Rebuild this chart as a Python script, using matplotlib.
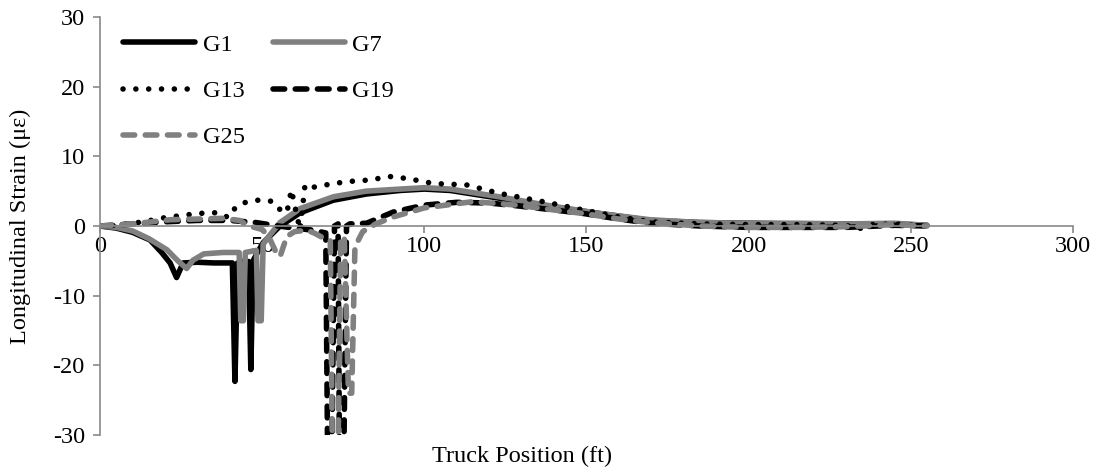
import numpy as np
import matplotlib
matplotlib.use('Agg')
import matplotlib.pyplot as plt

plt.rcParams['font.family'] = ['Liberation Serif', 'DejaVu Serif']

# series (truck position in ft, strain in microstrain)
g1_x = [0, 5, 10, 15.4, 19, 21.6, 23.6, 25.6, 30, 35, 40.8, 41.6, 42.4, 44, 45.8,
        46.5, 47.2, 48.3, 50.3, 55.5, 61.7, 71.9, 82.2, 92.5, 100, 108, 123, 138.8,
        154, 169.6, 185, 200, 215, 230, 245, 255]
g1_y = [0, -0.3, -0.9, -2.0, -3.8, -5.3, -7.4, -5.3, -5.2, -5.3, -5.3, -22.3, -5.3, -5.1, -5.1,
        -20.6, -5.0, -4.0, -2.4, 0.0, 1.9, 3.7, 4.6, 5.1, 5.3, 5.1, 4.0, 2.8,
        1.8, 0.8, 0.5, 0.4, 0.3, 0.3, 0.3, 0.1]

g7_x = [0, 5, 10, 15, 20.6, 24, 26.7, 28.7, 32, 38, 42.9, 43.4, 44.2, 44.8, 47, 48.2,
        48.7, 49.7, 50.3, 52, 55.5, 61.7, 72, 82, 92.5, 100, 108, 123, 138.8, 154,
        169.6, 185, 200, 215, 230, 245, 255]
g7_y = [0, -0.2, -0.7, -1.8, -3.4, -5.0, -6.1, -4.9, -4.0, -3.8, -3.8, -13.6, -13.6, -3.8, -3.6, -3.5,
        -13.6, -13.6, -2.6, -1.5, 0.5, 2.5, 4.2, 5.0, 5.3, 5.5, 5.3, 4.2, 2.9, 1.8,
        0.9, 0.5, 0.4, 0.4, 0.3, 0.4, 0.1]

g13_x = [0, 5, 13.3, 20, 26.7, 33, 37, 39.5, 42, 44, 48.3, 51, 53.4, 55, 57.6, 59, 60,
         61.7, 63.2, 65, 72, 77, 83, 89.4, 95, 102.8, 113, 123, 138.8, 149, 160, 170,
         185, 200, 215, 230, 234, 238, 245, 255]
g13_y = [0, 0.1, 0.6, 1.2, 1.6, 1.9, 1.9, 1.2, 2.8, 3.3, 3.7, 3.7, 3.5, 2.5, 1.9, 5.2, 3.0,
         -0.6, 5.9, 5.5, 6.1, 6.4, 6.6, 7.1, 6.8, 6.1, 5.9, 4.7, 3.3, 2.3, 1.3, 0.6,
         0.3, 0.2, 0.2, 0.1, -0.4, 0.2, 0.3, 0.0]

g19_x = [0, 10, 20, 30, 40, 48, 55, 60, 65.7, 69.6, 70.3, 71.3, 72.3, 73.4, 73.9, 75.0,
         76.0, 77, 82.2, 90.4, 100, 110, 120, 128.5, 140, 149, 160, 169.6, 185, 200,
         215, 230, 245, 255]
g19_y = [0, 0.3, 0.6, 0.8, 0.8, 0.5, 0.0, -0.3, -0.6, -1.0, -40, -40, 0.0, 0.3, -40, -40,
         0.0, 0.3, 0.4, 2.0, 3.0, 3.4, 3.3, 2.9, 2.3, 1.8, 1.0, 0.4, 0.0, -0.2,
         -0.2, -0.2, 0.1, 0.0]

g25_x = [0, 7, 14, 21.6, 30, 38, 43, 46, 50, 52, 54, 55.5, 56.5, 57.6, 60, 63.8, 66, 68.8,
         71.0, 71.8, 73.2, 74.2, 75.3, 76.6, 77.6, 78.6, 81, 85, 90.4, 100, 115, 128.5,
         140, 149, 160, 169.6, 185, 200, 215, 230, 245, 255]
g25_y = [0, 0.2, 0.5, 0.9, 1.0, 1.1, 0.8, 0.0, -0.5, -1.5, -3.5, -4.4, -3.0, -1.5, -0.8, -0.6, -1.0, -1.7,
         -2.0, -40, -40, -1.8, -1.5, -24, -24, -3.0, -0.8, 0.3, 1.3, 2.6, 3.5, 3.0,
         2.3, 1.8, 1.0, 0.5, 0.0, -0.2, -0.2, -0.1, 0.2, 0.0]

x_ticks = [0, 50, 100, 150, 200, 250, 300]
y_ticks = [-30, -20, -10, 0, 10, 20, 30]

fs = 17.5
gray = '#808080'
axis_col = '#898989'
lw = 4

fig = plt.figure(figsize=(11.09, 4.75), dpi=100)
ax = fig.add_axes([0.0902, 0.0842, 0.8773, 0.88])

dash = (0, (2.1, 1.9))
dot = (0, (0.01, 2.3))
l1, = ax.plot(g1_x, g1_y, color='black', lw=lw, solid_joinstyle='round', solid_capstyle='round', label='G1')
l7, = ax.plot(g7_x, g7_y, color=gray, lw=lw, solid_joinstyle='round', solid_capstyle='round', label='G7')
l13, = ax.plot(g13_x, g13_y, color='black', lw=lw, linestyle=dot, dash_capstyle='round', label='G13')
l19, = ax.plot(g19_x, g19_y, color='black', lw=lw, linestyle=dash, dash_capstyle='round', dash_joinstyle='round', label='G19')
l25, = ax.plot(g25_x, g25_y, color=gray, lw=lw, linestyle=dash, dash_capstyle='round', dash_joinstyle='round', label='G25')

ax.set_xlim(0, 300)
ax.set_ylim(-30, 30)
ax.set_xticks(x_ticks)
ax.set_yticks(y_ticks)
ax.set_xticklabels([str(v) for v in x_ticks])
ax.set_yticklabels([str(v) for v in y_ticks])

for s in ['top', 'right']:
    ax.spines[s].set_visible(False)
ax.spines['bottom'].set_position(('data', 0))
ax.spines['bottom'].set_color(axis_col)
ax.spines['left'].set_color(axis_col)
ax.spines['bottom'].set_linewidth(1.2)
ax.spines['left'].set_linewidth(1.2)
ax.tick_params(axis='both', colors=axis_col, labelcolor='black', labelsize=fs,
               length=5, width=1.2, direction='out')
ax.tick_params(axis='x', pad=2)
ax.tick_params(axis='y', pad=6)

fig.text(0.471, 0.04, 'Truck Position (ft)', ha='center', va='center', fontsize=fs)
fig.text(0.018, 0.524, 'Longitudinal Strain (με)', ha='center', va='center',
         rotation=90, fontsize=fs)

handles = [l1, l13, l25, l7, l19]
ax.legend(handles, [h.get_label() for h in handles], ncol=2, loc='upper left',
          bbox_to_anchor=(0.024, 0.96), frameon=False, fontsize=fs,
          handlelength=2.96, handletextpad=0.3, columnspacing=1.15,
          labelspacing=1.0, borderpad=0, borderaxespad=0)

fig.savefig('out.png', dpi=100)
